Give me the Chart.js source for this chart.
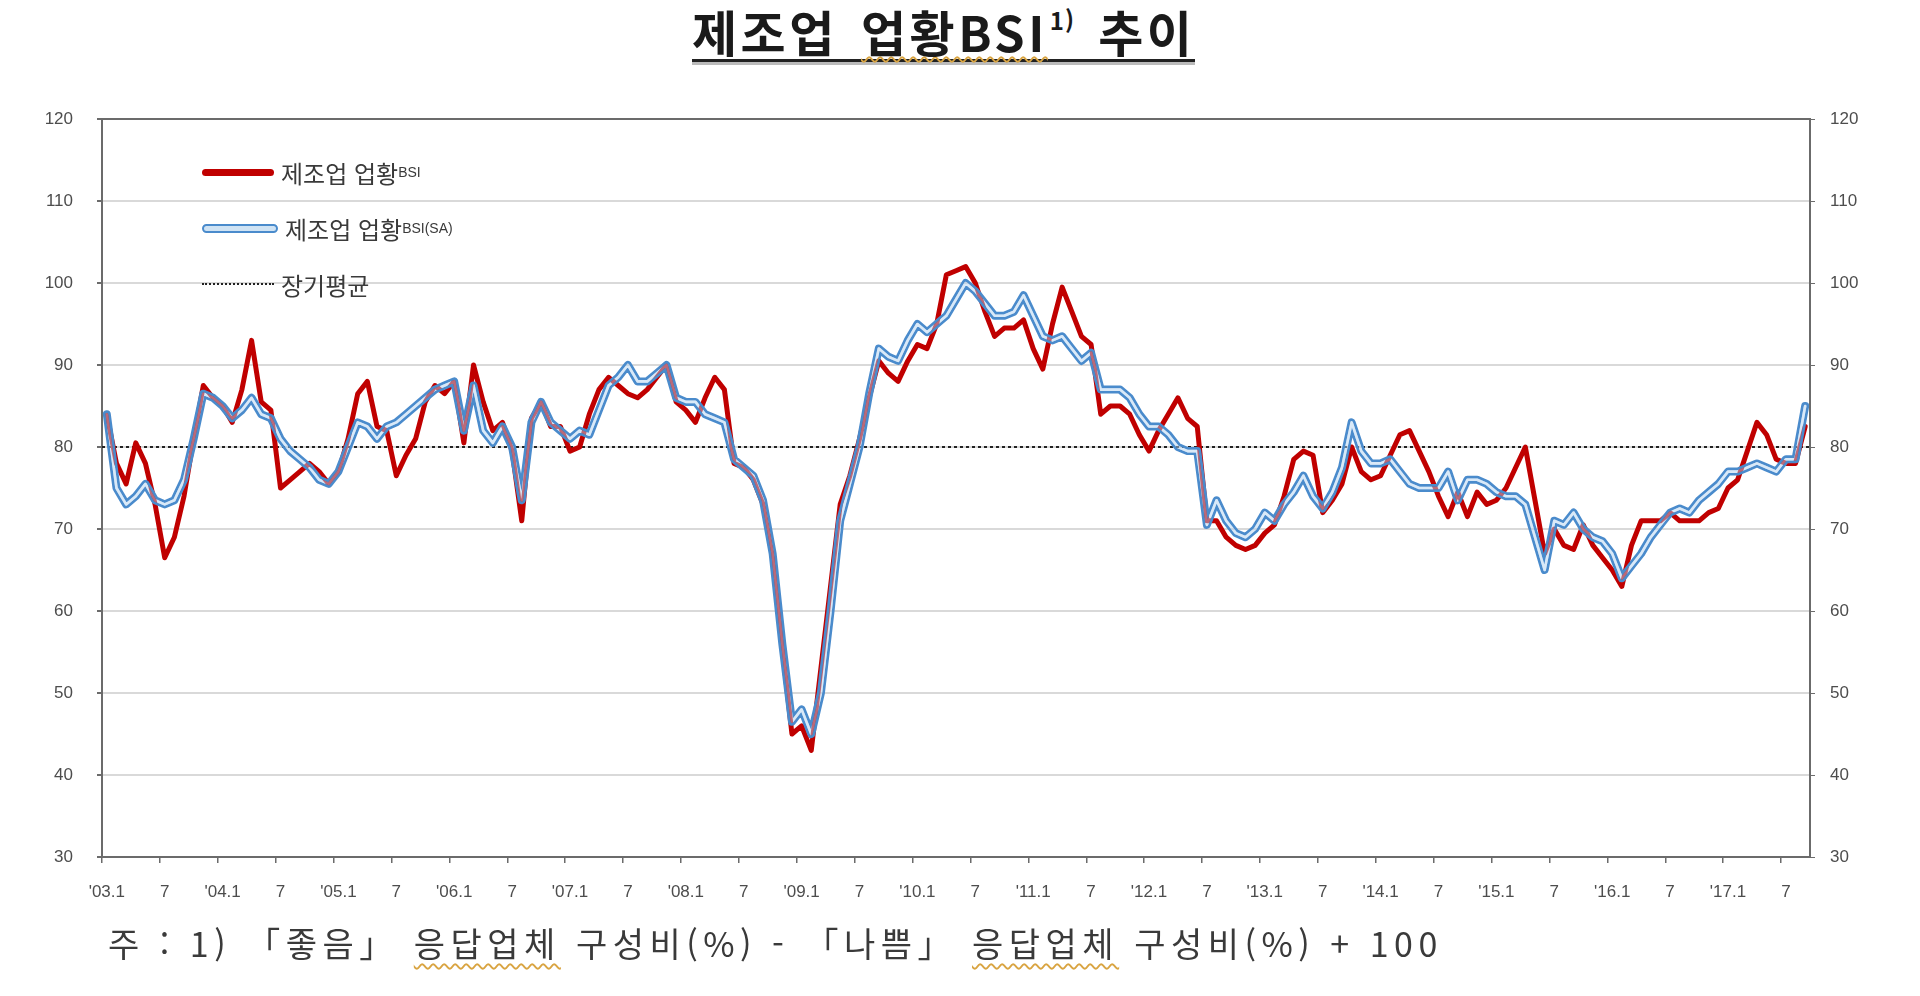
<!DOCTYPE html>
<html lang="ko">
<head>
<meta charset="utf-8">
<title>제조업 업황BSI 추이</title>
<script src="https://cdn.jsdelivr.net/npm/chart.js@4.4.1/dist/chart.umd.min.js"></script>
<style>
  html, body { margin: 0; padding: 0; background: #fff; }
  body { width: 1920px; height: 996px; position: relative; overflow: hidden;
         font-family: "Noto Sans CJK KR", "Noto Sans", sans-serif; color: #262626; }
  #title { position: absolute; left: 692px; top: 4px; font-size: 49px; font-weight: 700;
           line-height: 1.1; letter-spacing: 3.5px; word-spacing: 6px; color: #1a1a1a; white-space: nowrap;
           border-bottom: 3px solid #222; box-shadow: 0 3px 0 #bbb; padding-bottom: 1px; }
  #title sup { font-size: 24px; vertical-align: 22px; line-height: 0; margin-left: 2px; letter-spacing: 1px; }
  #title .sq { text-decoration: underline wavy #d9a441 2px; text-underline-offset: 4px; }
  #wrap { position: absolute; left: 0; top: 0; width: 1920px; height: 920px; }
  .legend-item { position: absolute; left: 202px; height: 30px; display: flex; align-items: center;
                 font-size: 24px; color: #3a3a3a; white-space: nowrap; }
  .legend-item .sw { width: 72px; margin-right: 7px; flex: none; }
  .legend-item small { font-size: 14px; font-family: "Liberation Sans", Arial, sans-serif; }
  #note { position: absolute; left: 108px; top: 918px; font-size: 34px; color: #3a3a3a;
          white-space: pre; letter-spacing: 5.5px; }
  #note .sq { text-decoration: underline wavy #d9a441 2px; text-underline-offset: 6px; }
</style>
</head>
<body>
<div id="title">제조업 <span class="sq">업황BSI</span><sup>1)</sup> 추이</div>
<div id="wrap"><canvas id="bsiChart" width="1920" height="920"></canvas></div>

<div class="legend-item" style="top:157px">
  <div class="sw" style="height:7px;background:#c00000;border-radius:4px;"></div>제조업 업황<small>BSI</small>
</div>
<div class="legend-item" style="top:213px">
  <div class="sw" style="height:5px;background:#cfe3f4;border:2.5px solid #4a8bcc;border-radius:5px;"></div>제조업 업황<small>BSI(SA)</small>
</div>
<div class="legend-item" style="top:269px">
  <div class="sw" style="height:0;border-top:2px dotted #222;"></div>장기평균
</div>

<div id="note">주 : 1) 「좋음」 <span class="sq">응답업체</span> 구성비(%) - 「나쁨」 <span class="sq">응답업체</span> 구성비(%) + 100</div>

<script>
// monthly, 2003.1 ~ 2017.9
const startYear = 2003;
const monthCount = 177;

// tick label shown every 6 months
const xTickLabels = ["'03.1", "7", "'04.1", "7", "'05.1", "7", "'06.1", "7", "'07.1", "7",
                     "'08.1", "7", "'09.1", "7", "'10.1", "7", "'11.1", "7", "'12.1", "7",
                     "'13.1", "7", "'14.1", "7", "'15.1", "7", "'16.1", "7", "'17.1", "7"];

// 제조업 업황BSI (original)
const bsi = [
  84, 78, 75.5, 80.5, 78, 73, 66.5, 69, 74, 81, 87.5, 86,          // 2003
  85, 83, 87, 93, 85.5, 84.5, 75, 76, 77, 78, 77, 75.5,            // 2004
  77, 81, 86.5, 88, 82.5, 82, 76.5, 79, 81, 85.5, 87.5, 86.5,      // 2005
  88, 80.5, 90, 85.5, 82, 83, 79.5, 71, 83.5, 85.5, 82.5, 82.5,    // 2006
  79.5, 80, 84, 87, 88.5, 87.5, 86.5, 86, 87, 88.5, 90, 85.5,      // 2007
  84.5, 83, 86, 88.5, 87, 78, 77.5, 76, 73, 66.5, 55.5, 45,        // 2008
  46, 43, 53, 63, 73, 76.5, 81, 86, 90.5, 89, 88, 90.5,            // 2009
  92.5, 92, 95, 101, 101.5, 102, 100, 96.5, 93.5, 94.5, 94.5, 95.5, // 2010
  92, 89.5, 95, 99.5, 96.5, 93.5, 92.5, 84, 85, 85, 84, 81.5,      // 2011
  79.5, 82, 84, 86, 83.5, 82.5, 71, 71, 69, 68, 67.5, 68,          // 2012
  69.5, 70.5, 74, 78.5, 79.5, 79, 72, 73.5, 75.5, 80, 77, 76,      // 2013
  76.5, 79, 81.5, 82, 79.5, 77, 74, 71.5, 74.5, 71.5, 74.5, 73,    // 2014
  73.5, 75, 77.5, 80, 73.5, 67, 70, 68, 67.5, 70.5, 68, 66.5,      // 2015
  65, 63, 68, 71, 71, 71, 72, 71, 71, 71, 72, 72.5,                // 2016
  75, 76, 79.5, 83, 81.5, 78.5, 78, 78, 82.5                        // 2017
];

// 제조업 업황BSI (seasonally adjusted)
const bsiSA = [
  84, 75, 73, 74, 75.5, 73.5, 73, 73.5, 76, 81, 86.5, 86,          // 2003
  85, 83.5, 84.5, 86, 84, 83.5, 81, 79.5, 78.5, 77.5, 76, 75.5,    // 2004
  77, 80, 83, 82.5, 81, 82.5, 83, 84, 85, 86, 87, 87.5,            // 2005
  88, 82, 87.5, 82, 80.5, 82.5, 80, 73.5, 83, 85.5, 83, 82,        // 2006
  81, 82, 81.5, 84.5, 87.5, 88.5, 90, 88, 88, 89, 90, 86,          // 2007
  85.5, 85.5, 84, 83.5, 83, 78.5, 77.5, 76.5, 73.5, 67, 56, 46.5,  // 2008
  48, 45, 50, 60, 71, 75.5, 80, 86.5, 92, 91, 90.5, 93,            // 2009
  95, 94, 95, 96, 98, 100, 99, 97.5, 96, 96, 96.5, 98.5,           // 2010
  96, 93.5, 93, 93.5, 92, 90.5, 91.5, 87, 87, 87, 86, 84,          // 2011
  82.5, 82.5, 81.5, 80, 79.5, 79.5, 70.5, 73.5, 71, 69.5, 69, 70,  // 2012
  72, 71, 73, 74.5, 76.5, 74, 72.5, 74.5, 77.5, 83, 79.5, 78,      // 2013
  78, 78.5, 77, 75.5, 75, 75, 75, 77, 73.5, 76, 76, 75.5,          // 2014
  74.5, 74, 74, 73, 69, 65, 71, 70.5, 72, 70, 69, 68.5,            // 2015
  67, 64, 65.5, 67, 69, 70.5, 72, 72.5, 72, 73.5, 74.5, 75.5,      // 2016
  77, 77, 77.5, 78, 77.5, 77, 78.5, 78.5, 85                        // 2017
];

// 장기평균
const longTermAverage = 80;

const months = [];
for (let i = 0; i < monthCount; i++) {
    months.push((startYear + Math.floor(i / 12)) + "." + (i % 12 + 1));
}

const axisColor = "#6b6b6b";
const gridColor = "#d9d9d9";
const tickFont = { family: "'Liberation Sans', Arial, sans-serif", size: 17 };

// frame on top + long-term average dotted line
const framePlugin = {
    id: "frame",
    beforeDatasetsDraw(chart) {
        const { ctx, chartArea: a, scales } = chart;
        const y = scales.y.getPixelForValue(longTermAverage);
        ctx.save();
        ctx.strokeStyle = "#222";
        ctx.lineWidth = 2;
        ctx.setLineDash([3, 3]);
        ctx.beginPath();
        ctx.moveTo(a.left, y);
        ctx.lineTo(a.right, y);
        ctx.stroke();
        ctx.setLineDash([]);
        ctx.strokeStyle = axisColor;
        ctx.beginPath();
        ctx.moveTo(a.left, a.top);
        ctx.lineTo(a.right, a.top);
        ctx.stroke();
        ctx.restore();
    }
};

// SA series drawn as a double line with an open centre
const doubleLinePlugin = {
    id: "doubleLine",
    beforeDatasetDraw(chart, args) {
        const ds = chart.data.datasets[args.index];
        if (!ds.doubleLine) return;
        const pts = args.meta.data;
        const dpr = chart.currentDevicePixelRatio;
        const off = document.createElement("canvas");
        off.width = chart.canvas.width;
        off.height = chart.canvas.height;
        const o = off.getContext("2d");
        o.setTransform(dpr, 0, 0, dpr, 0, 0);
        o.lineJoin = "round";
        o.lineCap = "round";
        o.beginPath();
        pts.forEach((p, i) => i ? o.lineTo(p.x, p.y) : o.moveTo(p.x, p.y));
        o.strokeStyle = ds.borderColor;
        o.lineWidth = ds.borderWidth;
        o.stroke();
        o.globalCompositeOperation = "destination-out";
        o.lineWidth = ds.gapWidth;
        o.stroke();
        o.globalCompositeOperation = "source-over";
        o.strokeStyle = ds.gapTint;
        o.stroke();
        chart.ctx.save();
        chart.ctx.setTransform(1, 0, 0, 1, 0, 0);
        chart.ctx.drawImage(off, 0, 0);
        chart.ctx.restore();
        return false;
    }
};

new Chart(document.getElementById("bsiChart"), {
    type: "line",
    data: {
        labels: months,
        datasets: [
            { label: "제조업 업황BSI(SA)", data: bsiSA, borderColor: "#4a8bcc", borderWidth: 8,
              gapWidth: 2.6, gapTint: "rgba(180,212,242,0.5)", doubleLine: true,
              pointRadius: 0, tension: 0, yAxisID: "y" },
            { label: "제조업 업황BSI", data: bsi, borderColor: "#c00000", borderWidth: 5,
              borderJoinStyle: "round", borderCapStyle: "round",
              pointRadius: 0, tension: 0, yAxisID: "y" }
        ]
    },
    options: {
        responsive: false,
        animation: false,
        layout: { padding: { top: 119, left: 0, right: 0, bottom: 0 } },
        plugins: { legend: { display: false }, title: { display: false }, tooltip: { enabled: false } },
        scales: {
            x: {
                type: "category",
                offset: true,
                afterFit: s => { s.height = 63; },
                border: { display: true, color: axisColor, width: 2 },
                grid: {
                    offset: true, drawOnChartArea: false, drawTicks: true, tickLength: 6,
                    color: c => (c.index % 6 === 0 ? axisColor : "rgba(0,0,0,0)"), lineWidth: 1.5
                },
                ticks: {
                    autoSkip: false, maxRotation: 0, minRotation: 0, padding: 19,
                    color: "#4d4d4d", font: tickFont,
                    callback: (v, i) => (i % 6 === 0 ? xTickLabels[i / 6] : "")
                }
            },
            y: {
                position: "left", min: 30, max: 120,
                afterFit: s => { s.width = 102; },
                border: { display: true, color: axisColor, width: 2 },
                grid: { color: gridColor, lineWidth: 2, tickLength: 5, tickColor: axisColor },
                ticks: { stepSize: 10, padding: 24, color: "#4d4d4d", font: tickFont }
            },
            y2: {
                position: "right", min: 30, max: 120,
                afterFit: s => { s.width = 110; },
                border: { display: true, color: axisColor, width: 2 },
                grid: { drawOnChartArea: false, tickLength: 5, tickColor: axisColor },
                ticks: { stepSize: 10, padding: 15, color: "#4d4d4d", font: tickFont }
            }
        }
    },
    plugins: [framePlugin, doubleLinePlugin]
});
</script>
</body>
</html>
